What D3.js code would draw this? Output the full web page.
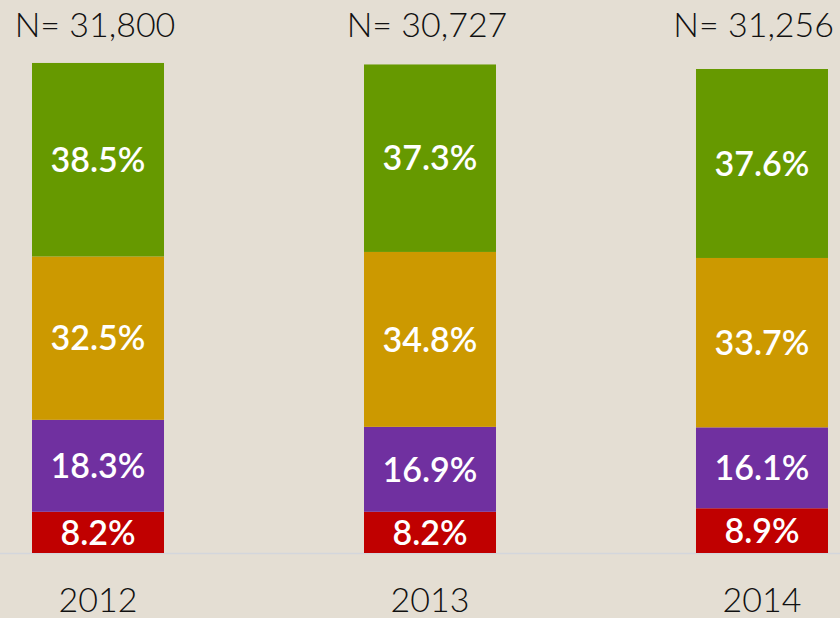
<!DOCTYPE html>
<html>
<head>
<meta charset="utf-8">
<script src="https://cdn.jsdelivr.net/npm/d3@7"></script>
<style>
  body { margin: 0; background: #e4ded3; }
  svg { display: block; }
</style>
</head>
<body>
<div id="chart"></div>
<script>
// data
var years = ["2012", "2013", "2014"];
var counts = ["N= 31,800", "N= 30,727", "N= 31,256"];
var segments = ["red", "purple", "orange", "green"];
var red = [8.2, 8.2, 8.9];
var purple = [18.3, 16.9, 16.1];
var orange = [32.5, 34.8, 33.7];
var green = [38.5, 37.3, 37.6];

var colors = {red: "#c00000", purple: "#7030a0", orange: "#cc9900", green: "#669900"};

var width = 840, height = 618;

var svg = d3.select("#chart").append("svg")
  .attr("width", width)
  .attr("height", height);

svg.append("rect").attr("width", width).attr("height", height).attr("fill", "#e4ded3");

var rows = years.map(function(y, i) {
  return {year: y, n: counts[i], red: red[i], purple: purple[i], orange: orange[i], green: green[i]};
});

var stack = d3.stack().keys(segments);
var series = stack(rows);

var x = d3.scaleBand()
  .domain(years)
  .range([32, 828])
  .paddingInner(0.6024)
  .paddingOuter(0);

var y = d3.scaleLinear()
  .domain([0, 100])
  .range([553, 50.4]);

// baseline
svg.append("line")
  .attr("x1", 0).attr("x2", width)
  .attr("y1", y(0) + 0.5).attr("y2", y(0) + 0.5)
  .attr("stroke", "#d3d6dc")
  .attr("stroke-width", 1.5);

var groups = svg.selectAll("g.series")
  .data(series)
  .enter()
  .append("g")
  .attr("class", "series")
  .attr("fill", function(d) { return colors[d.key]; });

groups.selectAll("rect")
  .data(function(d) { return d; })
  .enter()
  .append("rect")
  .attr("x", function(d) { return x(d.data.year); })
  .attr("y", function(d) { return y(d[1]); })
  .attr("width", x.bandwidth())
  .attr("height", function(d) { return y(d[0]) - y(d[1]); });

// percentage labels
groups.selectAll("text")
  .data(function(d) { return d; })
  .enter()
  .append("text")
  .attr("x", function(d) { return x(d.data.year) + x.bandwidth() / 2; })
  .attr("y", function(d) { return (y(d[0]) + y(d[1])) / 2; })
  .attr("dy", "0.36em")
  .attr("text-anchor", "middle")
  .attr("fill", "white")
  .style("font-family", "Lato, sans-serif")
  .style("font-weight", "600")
  .style("font-size", "34px")
  .text(function(d) { return d3.format(".1f")(d[1] - d[0]) + "%"; });

// N labels on top
svg.selectAll("text.n")
  .data(rows)
  .enter()
  .append("text")
  .attr("class", "n")
  .attr("x", function(d) { return x(d.year) + x.bandwidth() / 2 - 3; })
  .attr("y", 37)
  .attr("text-anchor", "middle")
  .attr("fill", "#111")
  .style("font-family", "Lato, sans-serif")
  .style("font-weight", "300")
  .style("font-size", "34px")
  .text(function(d) { return d.n; })
  .each(function() {
    // keep inside the page
    var b = this.getBBox();
    if (b.x + b.width > width - 6) {
      d3.select(this).attr("x", +d3.select(this).attr("x") - (b.x + b.width - (width - 6)));
    }
  });

// year axis
var xAxis = svg.append("g")
  .attr("transform", "translate(0," + 612 + ")")
  .call(d3.axisBottom(x).tickSize(0).tickPadding(0));
xAxis.select(".domain").remove();
xAxis.selectAll("text")
  .attr("dy", 0)
  .attr("y", 0)
  .attr("fill", "#111")
  .style("font-family", "Lato, sans-serif")
  .style("font-weight", "300")
  .style("font-size", "34px");
</script>
</body>
</html>
